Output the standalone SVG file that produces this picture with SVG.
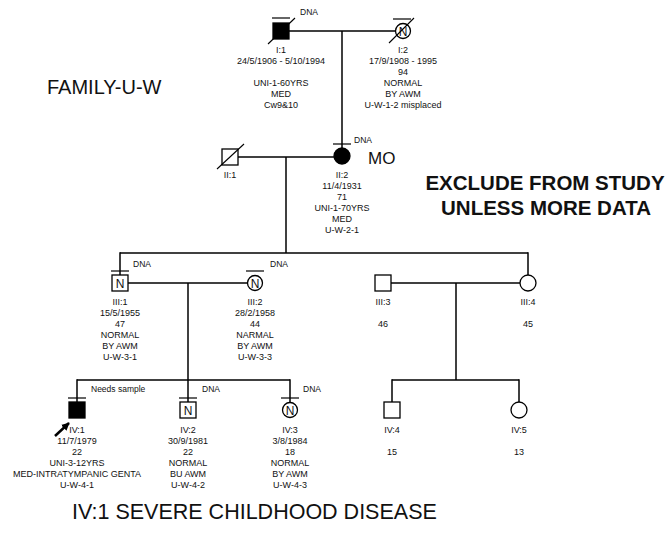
<svg xmlns="http://www.w3.org/2000/svg" width="670" height="533" viewBox="0 0 670 533">
<style>
.ln{stroke:#000;stroke-width:1.5;fill:none}
.sym{stroke:#000;stroke-width:1.3;fill:#fff}
.aff{stroke:#000;stroke-width:1.3;fill:#000}
.bar{stroke:#000;stroke-width:1.2}
.dead{stroke:#000;stroke-width:1.1}
text{font-family:"Liberation Sans",Arial,sans-serif;fill:#111}
.lb{font-size:9px;text-anchor:middle}
.dna{font-size:8.5px}
.n{font-size:12px;text-anchor:middle}
.big{font-size:20px}
.bold{font-size:20.5px;font-weight:bold;text-anchor:middle}
</style>
<defs>
<marker id="ah" viewBox="0 0 10 10" refX="9" refY="5" markerWidth="3.2" markerHeight="3.2" orient="auto" markerUnits="strokeWidth">
<path d="M0,0 L10,5 L0,10 Z" fill="#000"/>
</marker>
</defs>
<g id="connectors">
<line class="ln" x1="289" y1="31" x2="395.5" y2="31"/>
<line class="ln" x1="342" y1="31" x2="342" y2="148"/>
<line class="ln" x1="238" y1="157" x2="334" y2="157"/>
<line class="ln" x1="286" y1="157" x2="286" y2="253"/>
<line class="ln" x1="120" y1="253" x2="528" y2="253"/>
<line class="ln" x1="120" y1="252.25" x2="120" y2="275"/>
<line class="ln" x1="528" y1="252.25" x2="528" y2="275"/>
<line class="ln" x1="128" y1="283" x2="247.5" y2="283"/>
<line class="ln" x1="188" y1="283" x2="188" y2="402"/>
<line class="ln" x1="77" y1="380" x2="290" y2="380"/>
<line class="ln" x1="77" y1="379.25" x2="77" y2="402"/>
<line class="ln" x1="290" y1="379.25" x2="290" y2="402.5"/>
<line class="ln" x1="391" y1="283" x2="520" y2="283"/>
<line class="ln" x1="456" y1="283" x2="456" y2="380"/>
<line class="ln" x1="392" y1="380" x2="519" y2="380"/>
<line class="ln" x1="392" y1="379.25" x2="392" y2="402"/>
<line class="ln" x1="519" y1="379.25" x2="519" y2="402"/>
</g>
<g id="I-1">
<line class="bar" x1="272" y1="18" x2="290" y2="18"/>
<rect class="aff" x="273" y="23" width="16" height="16"/>
<line class="dead" x1="268" y1="44" x2="295" y2="18"/>
<text class="dna" x="300" y="15">DNA</text>
<text class="lb" x="281" y="53">I:1</text>
<text class="lb" x="281" y="64">24/5/1906 - 5/10/1994</text>
<text class="lb" x="281" y="86">UNI-1-60YRS</text>
<text class="lb" x="281" y="97">MED</text>
<text class="lb" x="281" y="108">Cw9&amp;10</text>
</g>
<g id="I-2">
<line class="bar" x1="393" y1="19" x2="411" y2="19"/>
<circle class="sym" cx="403" cy="31" r="7.5"/>
<text class="n" x="403" y="35.5">N</text>
<line class="dead" x1="389" y1="43" x2="414" y2="18"/>
<text class="lb" x="403" y="53">I:2</text>
<text class="lb" x="403" y="64">17/9/1908 - 1995</text>
<text class="lb" x="403" y="75">94</text>
<text class="lb" x="403" y="86">NORMAL</text>
<text class="lb" x="403" y="97">BY AWM</text>
<text class="lb" x="403" y="108">U-W-1-2 misplaced</text>
</g>
<g id="II-1">
<rect class="sym" x="222" y="149" width="16" height="16"/>
<line class="dead" x1="217" y1="169" x2="244" y2="144"/>
<text class="lb" x="230" y="178">II:1</text>
</g>
<g id="II-2">
<line class="bar" x1="333" y1="144" x2="351" y2="144"/>
<circle class="aff" cx="342" cy="156" r="8"/>
<text class="dna" x="354" y="143">DNA</text>
<text x="368" y="164" style="font-size:17px">MO</text>
<text class="lb" x="342" y="178">II:2</text>
<text class="lb" x="342" y="189">11/4/1931</text>
<text class="lb" x="342" y="200">71</text>
<text class="lb" x="342" y="211">UNI-1-70YRS</text>
<text class="lb" x="342" y="222">MED</text>
<text class="lb" x="342" y="233">U-W-2-1</text>
</g>
<g id="III-1">
<line class="bar" x1="111" y1="271" x2="129" y2="271"/>
<rect class="sym" x="112" y="275" width="16" height="16"/>
<text class="n" x="120" y="287.5">N</text>
<text class="dna" x="133" y="267">DNA</text>
<text class="lb" x="120" y="305">III:1</text>
<text class="lb" x="120" y="316">15/5/1955</text>
<text class="lb" x="120" y="327">47</text>
<text class="lb" x="120" y="338">NORMAL</text>
<text class="lb" x="120" y="349">BY AWM</text>
<text class="lb" x="120" y="360">U-W-3-1</text>
</g>
<g id="III-2">
<line class="bar" x1="246" y1="271" x2="264" y2="271"/>
<circle class="sym" cx="255" cy="283" r="7.5"/>
<text class="n" x="255" y="287.5">N</text>
<text class="dna" x="270" y="267">DNA</text>
<text class="lb" x="255" y="305">III:2</text>
<text class="lb" x="255" y="316">28/2/1958</text>
<text class="lb" x="255" y="327">44</text>
<text class="lb" x="255" y="338">NARMAL</text>
<text class="lb" x="255" y="349">BY AWM</text>
<text class="lb" x="255" y="360">U-W-3-3</text>
</g>
<g id="III-3">
<rect class="sym" x="375" y="275" width="16" height="16"/>
<text class="lb" x="383" y="305">III:3</text>
<text class="lb" x="383" y="327">46</text>
</g>
<g id="III-4">
<circle class="sym" cx="528" cy="283" r="8"/>
<text class="lb" x="528" y="305">III:4</text>
<text class="lb" x="528" y="327">45</text>
</g>
<g id="IV-1">
<line class="bar" x1="68" y1="398" x2="86" y2="398"/>
<rect class="aff" x="69" y="402" width="16" height="16"/>
<text class="dna" x="91" y="392">Needs sample</text>
<line x1="55" y1="436" x2="69" y2="423" stroke="#000" stroke-width="2.5" marker-end="url(#ah)"/>
<text class="lb" x="77" y="433">IV:1</text>
<text class="lb" x="77" y="444">11/7/1979</text>
<text class="lb" x="77" y="455">22</text>
<text class="lb" x="77" y="466">UNI-3-12YRS</text>
<text class="lb" x="77" y="477">MED-INTRATYMPANIC GENTA</text>
<text class="lb" x="77" y="488">U-W-4-1</text>
</g>
<g id="IV-2">
<line class="bar" x1="179" y1="398" x2="197" y2="398"/>
<rect class="sym" x="180" y="402" width="16" height="16"/>
<text class="n" x="188" y="414.5">N</text>
<text class="dna" x="202" y="392">DNA</text>
<text class="lb" x="188" y="433">IV:2</text>
<text class="lb" x="188" y="444">30/9/1981</text>
<text class="lb" x="188" y="455">22</text>
<text class="lb" x="188" y="466">NORMAL</text>
<text class="lb" x="188" y="477">BU AWM</text>
<text class="lb" x="188" y="488">U-W-4-2</text>
</g>
<g id="IV-3">
<line class="bar" x1="281" y1="398" x2="299" y2="398"/>
<circle class="sym" cx="290" cy="410" r="7.5"/>
<text class="n" x="290" y="414.5">N</text>
<text class="dna" x="303" y="392">DNA</text>
<text class="lb" x="290" y="433">IV:3</text>
<text class="lb" x="290" y="444">3/8/1984</text>
<text class="lb" x="290" y="455">18</text>
<text class="lb" x="290" y="466">NORMAL</text>
<text class="lb" x="290" y="477">BY AWM</text>
<text class="lb" x="290" y="488">U-W-4-3</text>
</g>
<g id="IV-4">
<rect class="sym" x="384" y="402" width="16" height="16"/>
<text class="lb" x="392" y="433">IV:4</text>
<text class="lb" x="392" y="455">15</text>
</g>
<g id="IV-5">
<circle class="sym" cx="519" cy="410" r="8"/>
<text class="lb" x="519" y="433">IV:5</text>
<text class="lb" x="519" y="455">13</text>
</g>
<g id="titles">
<text class="big" x="47" y="94">FAMILY-U-W</text>
<text class="bold" x="545" y="190">EXCLUDE FROM STUDY</text>
<text class="bold" x="546" y="215">UNLESS MORE DATA</text>
<text x="72" y="519" style="font-size:21.5px">IV:1 SEVERE CHILDHOOD DISEASE</text>
</g>
</svg>
